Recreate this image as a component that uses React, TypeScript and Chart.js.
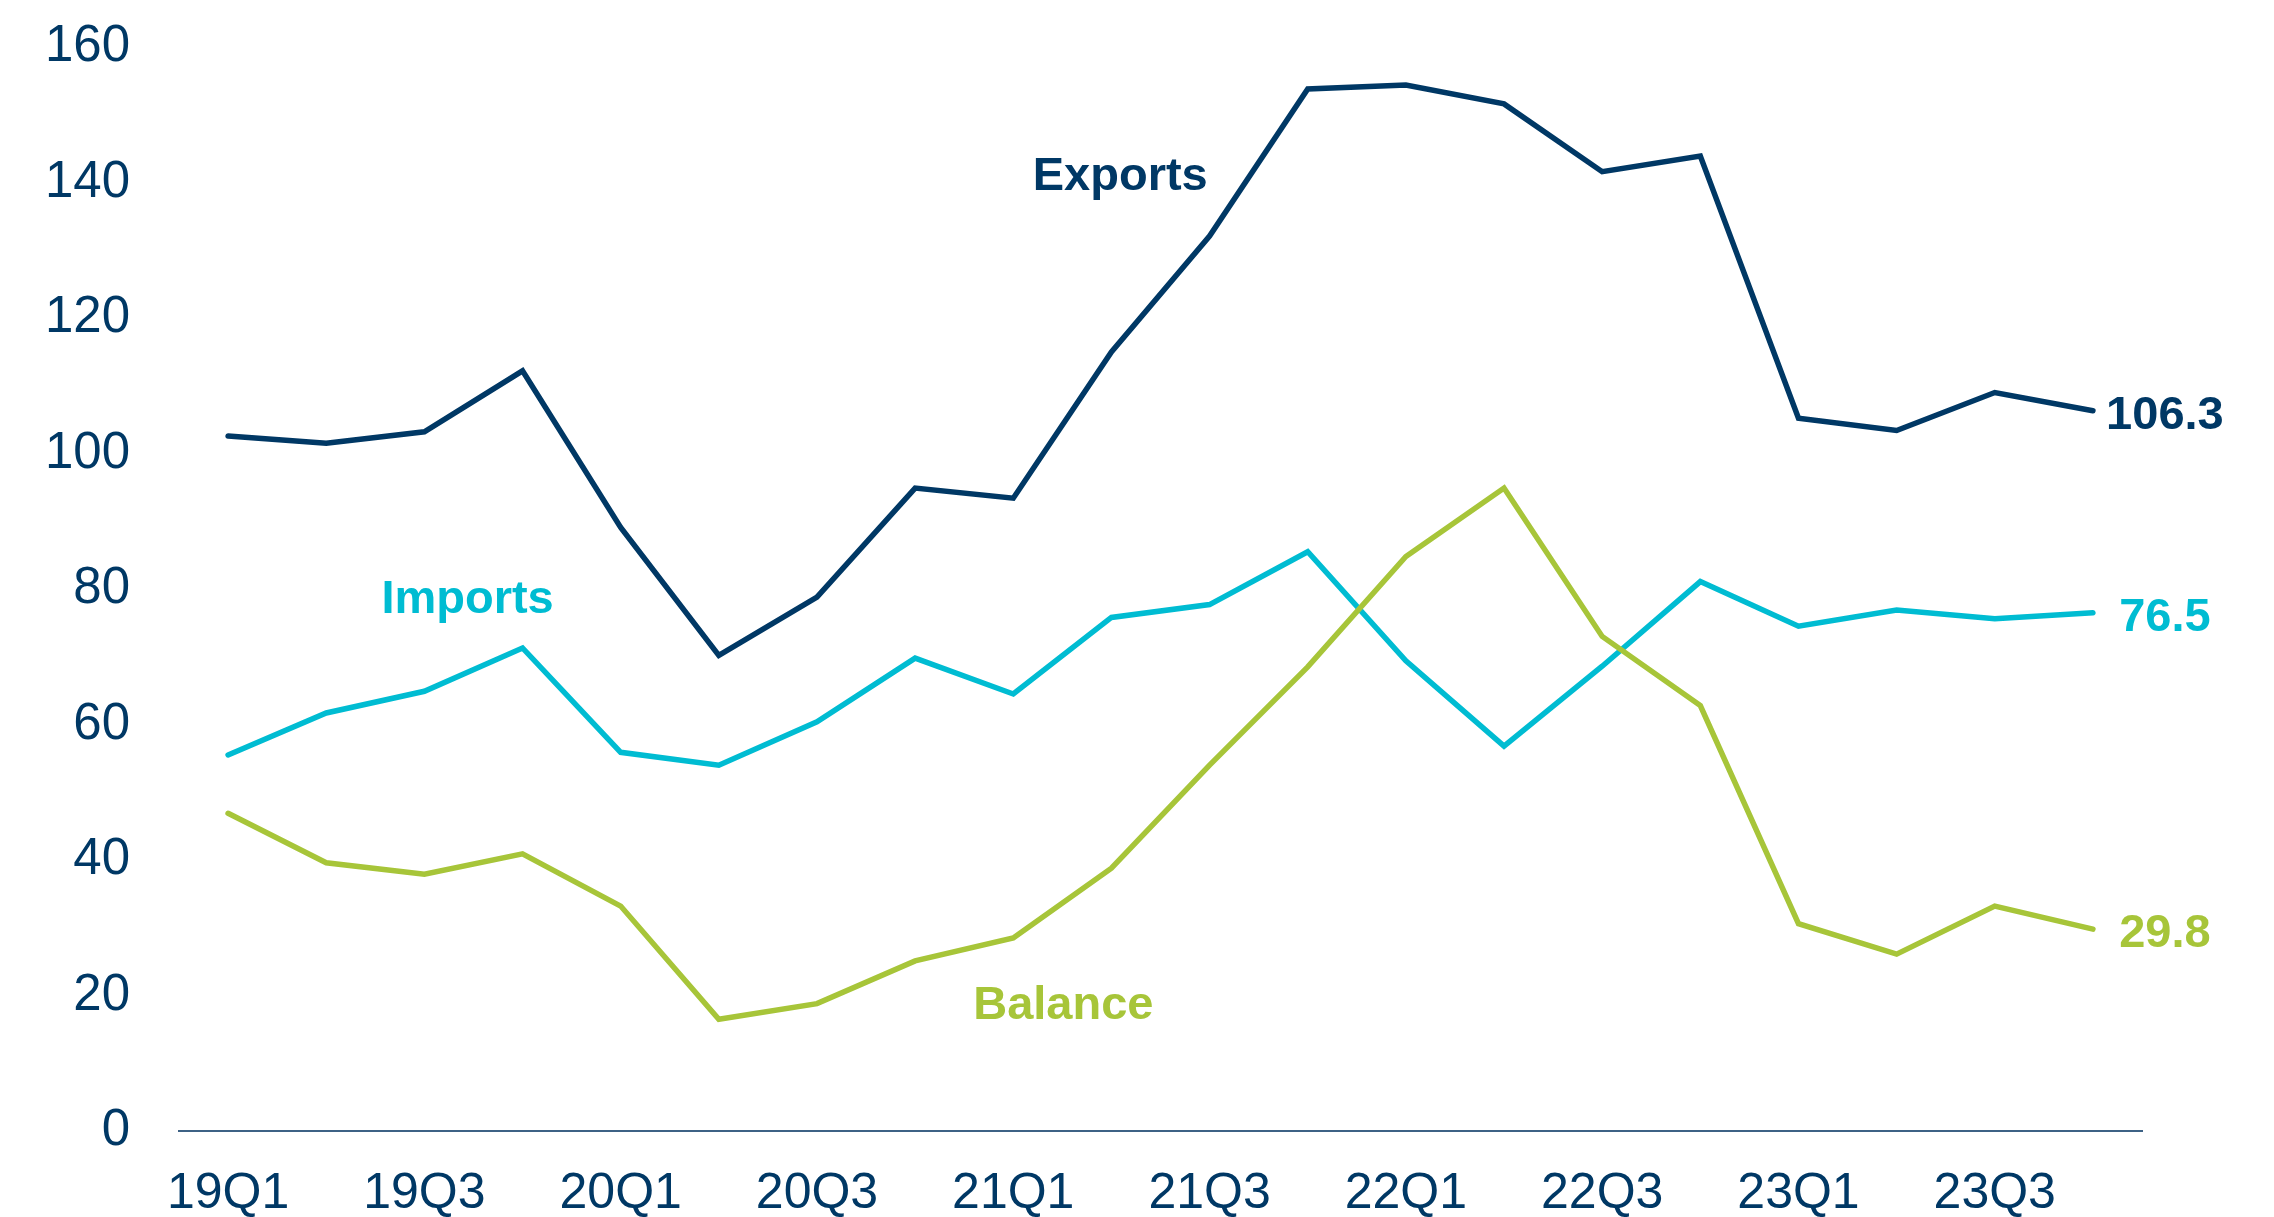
import React, { useEffect, useRef } from "react";
import { Chart, registerables } from "chart.js";

Chart.register(...registerables);

const quarters = [
  "19Q1", "19Q2", "19Q3", "19Q4",
  "20Q1", "20Q2", "20Q3", "20Q4",
  "21Q1", "21Q2", "21Q3", "21Q4",
  "22Q1", "22Q2", "22Q3", "22Q4",
  "23Q1", "23Q2", "23Q3", "23Q4",
];

const exportsSeries = [102.6, 101.5, 103.2, 112.2, 89.1, 70.2, 78.8, 94.9, 93.4, 115.0, 132.1, 153.8, 154.4, 151.6, 141.6, 143.9, 105.2, 103.4, 109.0, 106.3];
const importsSeries = [55.5, 61.7, 64.9, 71.3, 55.9, 54.0, 60.4, 69.8, 64.5, 75.8, 77.7, 85.5, 69.4, 56.8, 68.6, 81.1, 74.5, 76.9, 75.6, 76.5];
const balanceSeries = [46.9, 39.6, 37.9, 40.9, 33.2, 16.5, 18.8, 25.1, 28.5, 38.8, 54.0, 68.5, 84.8, 94.9, 73.0, 62.8, 30.6, 26.1, 33.2, 29.8];

const yTicks = [0, 20, 40, 60, 80, 100, 120, 140, 160];

const NAVY = "#003865";
const CYAN = "#00BCD2";
const GREEN = "#A7C539";
const AXIS = "#3D6285";
const FONT = "'Liberation Sans', Arial, sans-serif";

// series name labels placed in data space: [text, category index, value, colour]
const seriesNames: [string, number, number, string][] = [
  ["Exports", 9.09, 141.6, NAVY],
  ["Imports", 2.44, 79.1, CYAN],
  ["Balance", 8.51, 19.2, GREEN],
];

const endLabels: [string, number, string][] = [
  ["106.3", exportsSeries[exportsSeries.length - 1], NAVY],
  ["76.5", importsSeries[importsSeries.length - 1], CYAN],
  ["29.8", balanceSeries[balanceSeries.length - 1], GREEN],
];

const labelPlugin = {
  id: "textLabels",
  afterDatasetsDraw(chart: any) {
    const { ctx, scales } = chart;
    const x = scales.x;
    const y = scales.y;
    const step = x.getPixelForValue(1) - x.getPixelForValue(0);
    ctx.save();
    ctx.font = `bold 47px ${FONT}`;
    ctx.textBaseline = "middle";
    ctx.textAlign = "center";
    seriesNames.forEach(([t, idx, v, c]) => {
      const px = x.getPixelForValue(0) + idx * step;
      ctx.fillStyle = c;
      ctx.fillText(t, px, y.getPixelForValue(v) + 5);
    });
    const lastX = x.getPixelForValue(quarters.length - 1);
    endLabels.forEach(([t, v, c]) => {
      ctx.fillStyle = c;
      ctx.fillText(t, lastX + 72, y.getPixelForValue(v) + 5);
    });
    ctx.restore();
  },
};

export default function App() {
  const ref = useRef<HTMLCanvasElement | null>(null);

  useEffect(() => {
    if (!ref.current) return;
    const ds = (label: string, data: number[], color: string) => ({
      label,
      data,
      borderColor: color,
      backgroundColor: color,
      borderWidth: 5.5,
      pointRadius: 0,
      pointHoverRadius: 0,
      tension: 0,
      fill: false,
      borderCapStyle: "round" as const,
      borderJoinStyle: "miter" as const,
    });
    const chart = new Chart(ref.current, {
      type: "line",
      data: {
        labels: quarters,
        datasets: [
          ds("Balance", balanceSeries, GREEN),
          ds("Imports", importsSeries, CYAN),
          ds("Exports", exportsSeries, NAVY),
        ],
      },
      options: {
        responsive: false,
        animation: false,
        events: [],
        layout: { padding: { top: 47, right: 132, left: 0, bottom: 0 } },
        plugins: {
          legend: { display: false },
          tooltip: { enabled: false },
        },
        scales: {
          x: {
            type: "category",
            offset: true,
            grid: { display: false, drawTicks: false },
            border: { display: true, color: AXIS, width: 2 },
            ticks: {
              autoSkip: false,
              maxRotation: 0,
              minRotation: 0,
              padding: 33,
              color: NAVY,
              font: { family: FONT, size: 50 },
              callback: (_v: any, i: number) => (i % 2 === 0 ? quarters[i] : ""),
            },
            afterFit: (s: any) => {
              s.height = 86;
            },
          },
          y: {
            min: yTicks[0],
            max: yTicks[yTicks.length - 1],
            grid: { display: false, drawTicks: false },
            border: { display: false },
            afterBuildTicks: (s: any) => {
              s.ticks = yTicks.map((v) => ({ value: v }));
            },
            ticks: {
              padding: 49,
              color: NAVY,
              font: { family: FONT, size: 51 },
            },
            afterFit: (s: any) => {
              s.width = 179;
              s.paddingTop = 0;
              s.paddingBottom = 0;
            },
          },
        },
      },
      plugins: [labelPlugin],
    });
    return () => chart.destroy();
  }, []);

  return (
    <div style={{ position: "absolute", left: 0, top: 0, width: 2274, height: 1217, background: "#fff" }}>
      <canvas ref={ref} width={2274} height={1217} style={{ display: "block" }} />
    </div>
  );
}
